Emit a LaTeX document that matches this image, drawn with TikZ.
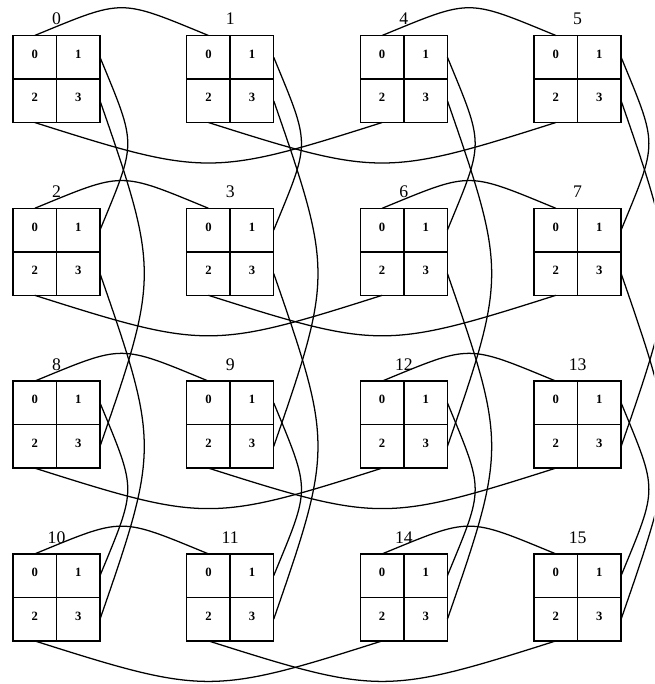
\documentclass[tikz,border=0pt]{standalone}
\usepackage{fontspec}
\setmainfont{Liberation Serif}
\usetikzlibrary{positioning, calc}

\begin{document}
\begin{tikzpicture}[
        x=0.025cm, y=0.025cm,
        %% one unit = one pixel of the 654x684 page
        cell/.style={rectangle, draw=black, line width=1.1pt, outer sep=0pt, inner sep=0pt, minimum size=1.0875cm, text depth=4.5pt, font=\fontsize{9}{10}\selectfont\bfseries},
        blocklabel/.style={anchor=base, inner sep=0pt, font=\fontsize{12.6}{14}\selectfont},
        link/.style={draw=black, line width=0.9pt}
    ]
    \useasboundingbox (0,0) rectangle (654,684);

    %% --- 16 blocks of 2x2 cells, numbered as printed above them ---
    \foreach \b/\i/\j in {0/0/0, 1/1/0, 4/2/0, 5/3/0,
                          2/0/1, 3/1/1, 6/2/1, 7/3/1,
                          8/0/2, 9/1/2, 12/2/2, 13/3/2,
                          10/0/3, 11/1/3, 14/2/3, 15/3/3} {
        \node[cell] (b\b-0) at ({34.75+173.7*\i}, {626.75-172.8*\j}) {0};
        \node[cell, right=0pt of b\b-0] (b\b-1) {1};
        \node[cell, below=0pt of b\b-0] (b\b-2) {2};
        \node[cell, right=0pt of b\b-2] (b\b-3) {3};
        \node[blocklabel] (t\b) at ($(b\b-0.north east)+(0,10.5)$) {\b};
    }

    \begin{scope}
        \clip (0,0) rectangle (654,684);
        %% --- top arcs: cell 0 to cell 0 of the neighbour block ---
        \foreach \p/\q in {0/1, 4/5, 2/3, 6/7, 8/9, 12/13, 10/11, 14/15}
            \draw[link] (b\p-0.north) .. controls +(90,37) and +(-90,37) .. (b\q-0.north);

        %% --- bottom arcs: cell 2 to cell 2, two blocks over ---
        \foreach \p/\q in {0/4, 1/5, 2/6, 3/7, 8/12, 9/13, 10/14, 11/15}
            \draw[link] (b\p-2.south) .. controls +(170,-54) and +(-170,-54) .. (b\q-2.south);

        %% --- short loops: cell 1 to cell 1, one row down ---
        \foreach \p/\q in {0/2, 1/3, 4/6, 5/7, 8/10, 9/11, 12/14, 13/15}
            \draw[link] (b\p-1.east) .. controls +(37,-90) and +(37,90) .. (b\q-1.east);

        %% --- long loops: cell 3 to cell 3, two rows down ---
        \foreach \p/\q in {0/8, 1/9, 4/12, 5/13, 2/10, 3/11, 6/14, 7/15}
            \draw[link] (b\p-3.east) .. controls +(59,-170) and +(59,170) .. (b\q-3.east);
    \end{scope}
\end{tikzpicture}
\end{document}
